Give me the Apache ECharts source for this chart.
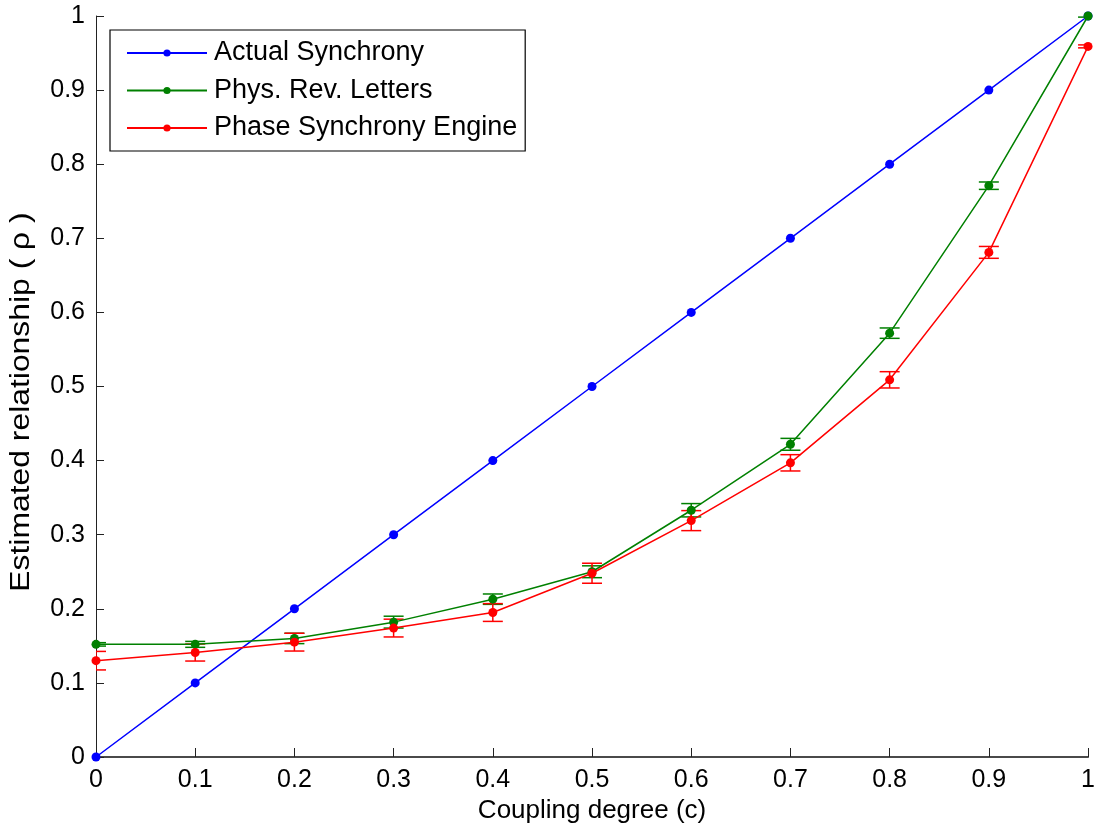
<!DOCTYPE html>
<html>
<head>
<meta charset="utf-8">
<title>Estimated relationship vs coupling degree</title>
<script src="https://cdn.jsdelivr.net/npm/echarts@6/dist/echarts.min.js"></script>
<style>
  html, body { margin: 0; padding: 0; background: #fff; }
  #chart { width: 1098px; height: 829px; }
</style>
</head>
<body>
<div id="chart"></div>
<script>
// Coupling degrees (x) and tick labels
const coupling = [0, 0.1, 0.2, 0.3, 0.4, 0.5, 0.6, 0.7, 0.8, 0.9, 1];
const tickValues = [0, 0.1, 0.2, 0.3, 0.4, 0.5, 0.6, 0.7, 0.8, 0.9, 1];

// Series names
const seriesNames = ['Actual Synchrony', 'Phys. Rev. Letters', 'Phase Synchrony Engine'];

// Estimated relationship values
const actualSync = [0, 0.1, 0.2, 0.3, 0.4, 0.5, 0.6, 0.7, 0.8, 0.9, 1.0];
const physRevLetters = [0.152, 0.152, 0.160, 0.182, 0.213, 0.250, 0.333, 0.422, 0.572, 0.771, 1.0];
const phaseEngine = [0.130, 0.141, 0.155, 0.174, 0.195, 0.248, 0.319, 0.397, 0.509, 0.681, 0.959];

// Half-lengths of the error bars
const physRevErr = [0.0023, 0.004, 0.007, 0.008, 0.007, 0.008, 0.009, 0.008, 0.007, 0.005, 0.0015];
const phaseEngineErr = [0.0125, 0.0115, 0.012, 0.012, 0.012, 0.0135, 0.0135, 0.011, 0.011, 0.008, 0.002];

const colors = ['#0000ff', '#008000', '#ff0000'];
const FONT = 'Liberation Sans, Arial, Helvetica, sans-serif';

function pairs(ys) { return coupling.map((x, i) => [x, ys[i]]); }
function errData(ys, es) { return coupling.map((x, i) => [x, ys[i] - es[i], ys[i] + es[i]]); }

function errorBarSeries(name, ys, es, color) {
  return {
    type: 'custom',
    name: name,
    clip: true,
    silent: true,
    z: 3,
    data: errData(ys, es),
    encode: { x: 0, y: [1, 2] },
    renderItem: function (params, api) {
      const x = api.value(0);
      const lo = api.coord([x, api.value(1)]);
      const hi = api.coord([x, api.value(2)]);
      const cap = 10;
      const st = { stroke: color, lineWidth: 1.5, fill: null };
      return {
        type: 'group',
        children: [
          { type: 'line', shape: { x1: lo[0], y1: lo[1], x2: hi[0], y2: hi[1] }, style: st },
          { type: 'line', shape: { x1: lo[0] - cap, y1: lo[1], x2: lo[0] + cap, y2: lo[1] }, style: st },
          { type: 'line', shape: { x1: hi[0] - cap, y1: hi[1], x2: hi[0] + cap, y2: hi[1] }, style: st }
        ]
      };
    }
  };
}

function lineSeries(name, ys, color, z) {
  return {
    type: 'line',
    name: name,
    data: pairs(ys),
    symbol: 'circle',
    symbolSize: 9,
    showSymbol: true,
    clip: false,
    z: z,
    animation: false,
    lineStyle: { color: color, width: 1.5 },
    itemStyle: { color: color }
  };
}

const chart = echarts.init(document.getElementById('chart'), null, { renderer: 'canvas' });

chart.setOption({
  animation: false,
  backgroundColor: '#ffffff',
  color: colors,
  grid: { left: 96, right: 7, top: 16, bottom: 72, containLabel: false },
  legend: {
    data: seriesNames,
    orient: 'vertical',
    left: 110,
    top: 30,
    padding: [8, 8, 8, 16],
    itemWidth: 80,
    itemHeight: 9,
    itemGap: 7.5,
    backgroundColor: '#ffffff',
    borderColor: '#000000',
    borderWidth: 1.2,
    textStyle: { fontFamily: FONT, fontSize: 27, color: '#000', lineHeight: 30, width: 300, padding: [0, 0, 0, 2] }
  },
  xAxis: {
    type: 'value',
    min: 0,
    max: 1,
    interval: 0.1,
    name: 'Coupling degree (c)',
    nameLocation: 'middle',
    nameGap: 30,
    nameTextStyle: { fontFamily: FONT, fontSize: 26, color: '#000' },
    axisLine: { show: true, onZero: false, lineStyle: { color: '#4a4a4a', width: 2 } },
    axisTick: { show: true, inside: true, length: 9, lineStyle: { color: '#222', width: 1 } },
    axisLabel: {
      fontFamily: FONT, fontSize: 25, color: '#000', margin: 11,
      customValues: tickValues,
      formatter: v => String(+v.toFixed(1))
    },
    splitLine: { show: false }
  },
  yAxis: {
    type: 'value',
    min: 0,
    max: 1,
    interval: 0.1,
    axisLine: { show: true, onZero: false, lineStyle: { color: '#222', width: 1 } },
    axisTick: { show: true, inside: true, length: 8, lineStyle: { color: '#222', width: 1 } },
    axisLabel: {
      fontFamily: FONT, fontSize: 25, color: '#000', margin: 11,
      formatter: v => String(+v.toFixed(1))
    },
    splitLine: { show: false }
  },
  graphic: [
    {
      type: 'text',
      x: 22,
      y: 402,
      rotation: Math.PI / 2,
      scaleX: 1.18,
      style: {
        text: 'Estimated relationship ( ρ )',
        fontFamily: FONT,
        fontSize: 27,
        fill: '#000',
        align: 'center',
        verticalAlign: 'middle'
      }
    }
  ],
  series: [
    lineSeries(seriesNames[0], actualSync, colors[0], 4),
    lineSeries(seriesNames[1], physRevLetters, colors[1], 5),
    errorBarSeries(seriesNames[1], physRevLetters, physRevErr, colors[1]),
    lineSeries(seriesNames[2], phaseEngine, colors[2], 6),
    errorBarSeries(seriesNames[2], phaseEngine, phaseEngineErr, colors[2])
  ]
});
</script>
</body>
</html>
